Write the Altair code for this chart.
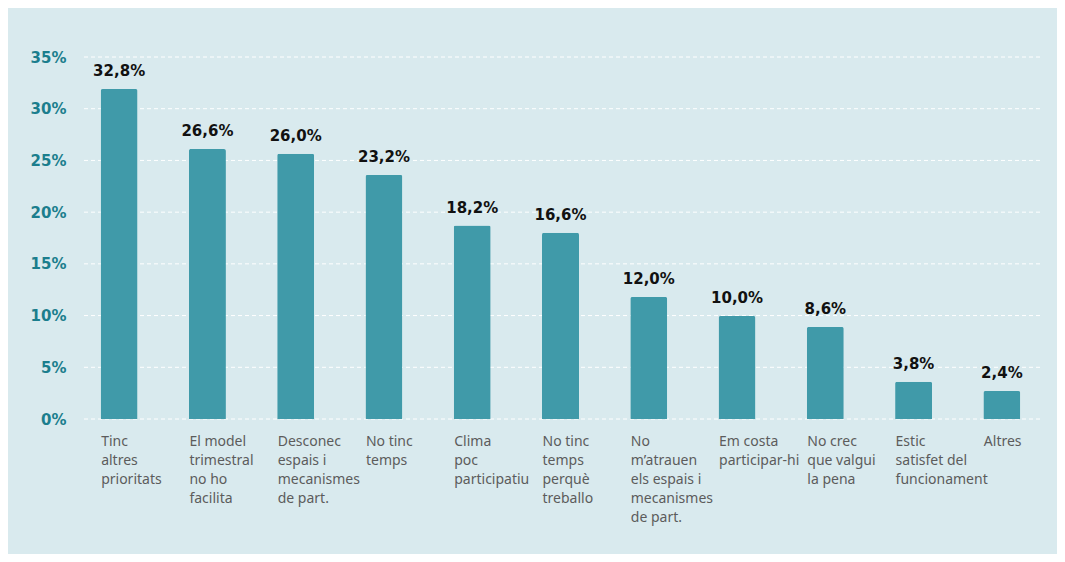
import altair as alt
import pandas as pd

categories = [
    "Tinc\naltres\nprioritats",
    "El model\ntrimestral\nno ho\nfacilita",
    "Desconec\nespais i\nmecanismes\nde part.",
    "No tinc\ntemps",
    "Clima\npoc\nparticipatiu",
    "No tinc\ntemps\nperquè\ntreballo",
    "No\nm’atrauen\nels espais i\nmecanismes\nde part.",
    "Em costa\nparticipar-hi",
    "No crec\nque valgui\nla pena",
    "Estic\nsatisfet del\nfuncionament",
    "Altres",
]
bar_values = [31.9, 26.1, 25.65, 23.6, 18.7, 18.0, 11.8, 9.95, 8.9, 3.6, 2.7]
value_labels = ["32,8%", "26,6%", "26,0%", "23,2%", "18,2%", "16,6%",
                "12,0%", "10,0%", "8,6%", "3,8%", "2,4%"]
y_ticks = [0, 5, 10, 15, 20, 25, 30, 35]

df = pd.DataFrame({"cat": categories, "val": bar_values, "lab": value_labels})
grid_df = pd.DataFrame({"t": y_ticks})

FONT = "Noto Sans"
BOLD_FONT = "DejaVu Sans"
BAR = "#409aa9"
TEAL = "#1b7e8d"
BG = "#d9eaee"

yscale = alt.Scale(domain=[0, 35], nice=False, zero=True)
xscale = alt.Scale(paddingInner=0, paddingOuter=0)
yaxis = alt.Axis(values=y_ticks, labelExpr="datum.value + '%'", title=None,
                 domain=False, ticks=False, grid=False, labelPadding=9,
                 labelFont=BOLD_FONT, labelFontSize=15, labelFontWeight="bold",
                 labelColor=TEAL)

grid = alt.Chart(grid_df).mark_rule(color="white", strokeDash=[4, 3], strokeWidth=1).encode(
    y=alt.Y("t:Q", scale=yscale, axis=yaxis),
    x=alt.value(9),
    x2=alt.value(966),
)

base = alt.Chart(df).encode(
    x=alt.X("cat:N", sort=None, scale=xscale,
            axis=alt.Axis(title=None, labelAngle=0, labelAlign="left", labelOffset=-18,
                          labelBaseline="top", labelPadding=15, labelLineHeight=19,
                          labelExpr="split(datum.value, '\\n')", domain=False, ticks=False,
                          labelFont=FONT, labelFontSize=14, labelColor="#5c5c5c",
                          labelLimit=200)),
    y=alt.Y("val:Q", scale=yscale, axis=yaxis),
)

bars = base.mark_bar(size=37, color=BAR, cornerRadiusTopLeft=2, cornerRadiusTopRight=2)
texts = base.mark_text(baseline="alphabetic", dy=-13, font=BOLD_FONT, fontSize=15,
                       fontWeight="bold", color="#111111").encode(text="lab:N")

chart = alt.layer(grid, bars, texts).properties(
    width=971, height=362,
    autosize=alt.AutoSizeParams(type="none"),
    padding={"left": 67, "top": 49, "right": 11, "bottom": 135},
    background=BG,
).configure_view(stroke=None)

chart.save("out.html", embed_options={"renderer": "svg", "actions": False})
